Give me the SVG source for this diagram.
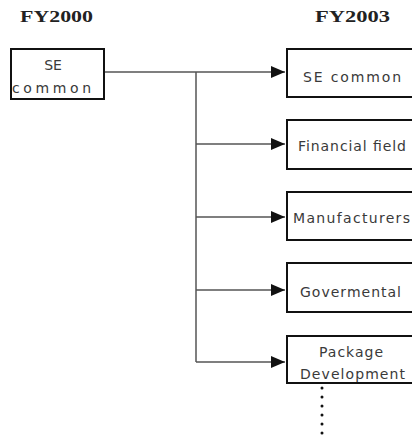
<svg xmlns="http://www.w3.org/2000/svg" width="412" height="439" viewBox="0 0 412 439">
  <style>
    .year { font-family: "Liberation Serif", "DejaVu Serif", serif; font-weight: bold; font-size: 17px; fill: #222; }
    .box { fill: #fff; stroke: #111; stroke-width: 2; }
    .label { font-family: "DejaVu Sans", "Liberation Sans", sans-serif; font-size: 14px; fill: #3a3a3a; }
    .wire { fill: none; stroke: #555; stroke-width: 1.5; }
    .dots { fill: none; stroke: #111; stroke-width: 3; stroke-linecap: round; stroke-dasharray: 0 9; }
  </style>
  <defs>
    <marker id="arrow" markerWidth="14" markerHeight="12" refX="14" refY="6" orient="auto" markerUnits="userSpaceOnUse">
      <path d="M0,0 L14,6 L0,12 Z" fill="#111"/>
    </marker>
  </defs>

  <rect width="412" height="439" fill="#fff"/>

  <!-- column headings -->
  <text class="year" x="20" y="22" textLength="73" lengthAdjust="spacingAndGlyphs">FY2000</text>
  <text class="year" x="315" y="22" textLength="75" lengthAdjust="spacingAndGlyphs">FY2003</text>

  <!-- connectors -->
  <g id="connectors">
    <path class="wire" d="M104,72 H196 M196,72 V362"/>
    <path class="wire" d="M196,72 H285" marker-end="url(#arrow)"/>
    <path class="wire" d="M196,144 H285" marker-end="url(#arrow)"/>
    <path class="wire" d="M196,217 H285" marker-end="url(#arrow)"/>
    <path class="wire" d="M196,290 H285" marker-end="url(#arrow)"/>
    <path class="wire" d="M196,362 H285" marker-end="url(#arrow)"/>
    <path class="dots" d="M322,388 V434"/>
  </g>

  <!-- source node -->
  <g id="se-common-2000">
    <rect class="box" x="11" y="49" width="93" height="50"/>
    <text class="label" x="53" y="70" text-anchor="middle">SE</text>
    <text class="label" x="12" y="93" textLength="79" lengthAdjust="spacing">common</text>
  </g>

  <!-- target nodes -->
  <g id="se-common-2003">
    <rect class="box" x="287" y="49" width="130" height="48"/>
    <text class="label" x="303" y="82" textLength="98" lengthAdjust="spacing">SE common</text>
  </g>
  <g id="financial-field">
    <rect class="box" x="287" y="120" width="130" height="49"/>
    <text class="label" x="298" y="151" textLength="108" lengthAdjust="spacing">Financial field</text>
  </g>
  <g id="manufacturers">
    <rect class="box" x="287" y="192" width="130" height="48"/>
    <text class="label" x="293" y="223" textLength="117" lengthAdjust="spacing">Manufacturers</text>
  </g>
  <g id="govermental">
    <rect class="box" x="287" y="263" width="130" height="49"/>
    <text class="label" x="300" y="297" textLength="101" lengthAdjust="spacing">Govermental</text>
  </g>
  <g id="package-development">
    <rect class="box" x="287" y="336" width="130" height="47"/>
    <text class="label" x="319" y="357" textLength="64" lengthAdjust="spacing">Package</text>
    <text class="label" x="300" y="379" textLength="105" lengthAdjust="spacing">Development</text>
  </g>
</svg>
